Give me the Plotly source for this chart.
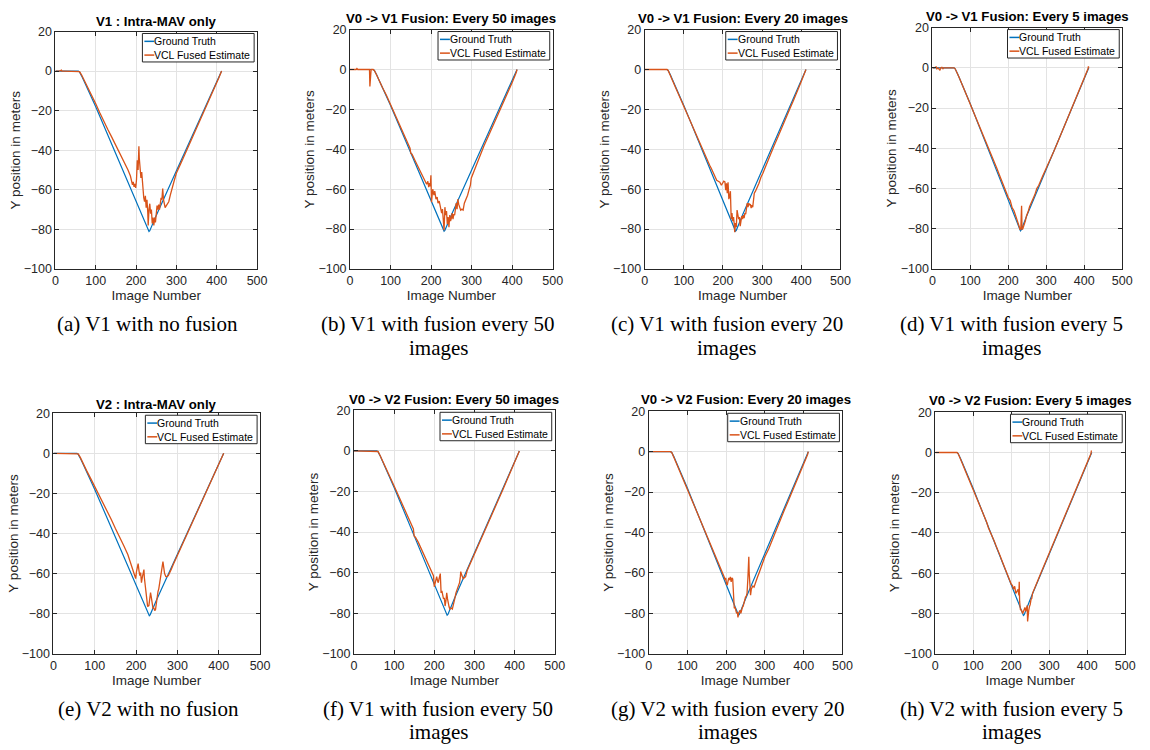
import plotly.graph_objects as go

W, H = 1150, 750

# Ground-truth Y position (same trajectory for V1 and V2)
gt_img = [0, 57, 60, 63, 66, 70, 80, 100, 150, 200, 222, 227, 230, 232, 234, 237, 242, 250, 300, 350, 400, 412]
gt_y = [0, 0, -0.5, -1.5, -2.8, -4.6, -8.8, -18, -41.9, -65.7, -76.2, -78.6, -80.3, -81, -80.6, -79.3, -76.8, -72.9, -50.4, -27.9, -5.4, 0]

# (a) V1, intra-MAV only
img_a = [0, 10, 15, 16, 20, 40, 57, 60, 65, 70, 80, 90, 100, 110, 120, 130, 140, 150, 160, 170, 180, 186,
         189, 191, 193, 195, 197, 199, 201, 203, 205, 207, 208, 210, 212, 214, 216, 218, 219, 221, 223, 225,
         227, 229, 230, 232, 234, 236, 238, 240, 242, 244, 246, 248, 250, 252, 254, 256, 258, 260, 262, 264,
         266, 268, 270, 272, 275, 278, 281, 285, 290, 295, 300, 305, 310, 320, 330, 340, 350, 360, 370, 380,
         390, 400, 405, 410, 412]
y_a = [0, 0, 0.5, 0, 0, 0, 0, -0.3, -2, -4, -8, -12.5, -16.5, -21, -25.5, -29.5, -33.5, -37.5, -41.5, -45.5, -50, -53,
       -56.5, -57.5, -56, -58.5, -57, -59, -55, -45, -50, -38, -44, -52, -54, -51, -57, -60, -64, -66, -63, -69,
       -65, -71.5, -78, -70, -67, -72, -70, -77, -74, -78, -74, -76.5, -72, -68, -70, -67.5, -70, -66, -64, -65,
       -59.3, -65, -67.5, -69, -68, -66.5, -66, -62.5, -58, -55, -51.5, -49.5, -47, -42.5, -38, -33.5, -29, -24.5, -20, -15.5,
       -11, -6, -3.5, -1, 0]

# (b) V0 -> V1 fusion every 50 images
img_b = [0, 15, 17, 19, 30, 48, 49, 50, 51, 52, 57, 60, 65, 70, 80, 90, 100, 110, 120, 130, 140, 148, 150, 153,
         160, 170, 180, 186, 189, 192, 194, 196, 198, 199.5, 201, 204, 207, 209, 212, 215, 217, 220, 223, 226,
         228, 230, 232, 234, 236, 238, 240, 242, 244, 246, 248, 250, 252, 254, 256, 258, 260, 262, 264, 266,
         268, 270, 273, 276, 279, 282, 286, 290, 294, 297, 299, 301, 305, 310, 320, 330, 340, 350, 360, 370,
         380, 390, 400, 410, 412]
y_b = [0, 0, 0.5, 0, 0, 0, -8.5, -3, 0, 0, 0, -0.5, -2.5, -5, -9, -13, -17.5, -22, -26.5, -31, -36, -39.5, -42, -42.5,
       -45.5, -49.5, -53.5, -56, -57.5, -56, -59, -57, -58.5, -53, -66.5, -60, -63, -61, -65, -64, -67, -66, -70, -72,
       -70, -74, -80.5, -69, -73, -71, -77.5, -74, -79, -73, -76, -74.5, -72, -75, -72.5, -73, -69, -67, -70, -65,
       -67.5, -69, -70.5, -70, -70.5, -67, -65, -63, -60, -58, -54.5, -53.5, -51, -48, -43, -38.5, -34, -29.5, -25, -20.5,
       -16, -11.5, -6.5, -1.5, 0]

# (c) V0 -> V1 fusion every 20 images
img_c = [0, 20, 22, 25, 40, 57, 60, 65, 70, 80, 90, 100, 110, 120, 130, 140, 150, 160, 163, 166, 170, 175, 180,
         184, 188, 192, 196, 199, 202, 205, 207, 209, 211, 213, 215, 217, 219, 221, 223, 225, 227, 229, 230, 232,
         234, 236, 238, 240, 242, 244, 246, 248, 250, 252, 254, 256, 258, 260, 262, 264, 266, 268, 270, 272, 274,
         276, 278, 280, 283, 287, 292, 297, 300, 302, 306, 310, 320, 330, 340, 350, 360, 370, 380, 390, 400, 410, 412]
y_c = [0, 0, -0.3, 0, 0, 0, -0.5, -2.5, -5, -9.5, -14, -18.5, -23, -27.5, -32, -37, -41, -45.5, -47.5, -48, -49.5, -52, -54,
       -55.5, -56, -56.5, -58, -57, -56, -56.3, -60.5, -57, -62, -56.5, -65, -63.5, -61, -75, -72, -76, -74, -78, -81.5, -77,
       -79, -70.5, -73, -75, -74, -78.5, -76, -73.5, -75, -73, -74.5, -72, -72.5, -70, -67, -69, -67, -68, -67.5, -69.5, -68,
       -69, -66, -62, -61, -59.5, -57, -54, -53, -52, -50, -48, -43, -38.5, -34, -29, -24.5, -20, -15.5, -11, -6, -1, 0]

# (d) V0 -> V1 fusion every 5 images
img_d = [0, 5, 10, 12, 15, 20, 22, 25, 28, 30, 35, 45, 57, 60, 65, 70, 80, 90, 100, 110, 120, 130, 140, 150, 155,
         160, 165, 170, 175, 180, 185, 190, 195, 200, 205, 210, 215, 220, 224, 228, 231, 233, 234, 235, 236, 237,
         239, 242, 245, 248, 250, 253, 256, 260, 265, 270, 275, 280, 290, 300, 310, 320, 330, 340, 350, 360, 370,
         380, 390, 400, 405, 408, 410, 411, 412]
y_d = [0, 0, 0.5, -0.5, 0, -1.2, 0, 0.3, -0.4, 0, 0, 0, 0, -0.5, -2.3, -4.6, -9, -13.5, -17.8, -22.5, -26.8, -31.5, -36, -40.5, -42.5,
       -45, -47.8, -50, -52.5, -55, -57.5, -59.8, -62, -64.5, -66, -69.5, -71, -73.5, -76, -78.5, -80.5, -80, -74, -68.6, -79, -80.5,
       -79.5, -78, -76, -73.5, -72, -71, -69, -67.5, -65, -63, -60, -58.5, -54, -50, -46, -41.5, -37, -32.5, -28, -23.5, -19,
       -14.5, -10, -5.5, -3, -1.5, -0.5, 0.7, 0]

# (e) V2, intra-MAV only
img_e = [0, 57, 60, 65, 70, 80, 90, 100, 110, 120, 130, 140, 150, 160, 170, 180, 186, 190, 194, 197, 199, 201, 203,
         205, 207, 209, 211, 213, 215, 217, 219, 220, 222, 224, 226, 228, 231, 233, 235, 237, 239, 241, 243, 245,
         247, 249, 251, 253, 255, 257, 259, 261, 263, 265, 267, 269, 272, 275, 278, 281, 285, 290, 300, 310, 320,
         330, 340, 350, 360, 370, 380, 390, 400, 410, 412]
y_e = [0, 0, -0.3, -2, -4.3, -8.5, -12.5, -16.5, -20.5, -24.5, -29, -33, -37.5, -41.5, -46, -50.5, -54, -56.5, -58.5, -61, -62.5, -59, -56.5,
       -55, -58.5, -61, -59.5, -64.5, -62, -60, -58, -62, -66, -70, -74, -76.5, -76, -72, -69.5, -72, -76, -77.5, -77, -78.5,
       -78, -74, -71, -69, -67.5, -65, -62, -60, -58, -54, -57, -60, -61.5, -61.5, -61, -60, -58, -55.5, -51, -46.5, -42,
       -37.5, -33, -28.5, -24, -19.5, -15, -10.5, -6, -1.5, 0]

# (f) V0 -> V2 fusion every 50 images
img_f = [0, 57, 60, 65, 70, 80, 90, 100, 110, 120, 130, 140, 148, 150, 153, 160, 170, 180, 190, 196, 198, 200, 202,
         204, 206, 208, 210, 212, 214, 215, 217, 219, 221, 223, 225, 227, 229, 231, 233, 235, 237, 239, 242, 245,
         248, 251, 254, 257, 259, 261, 263, 265, 266, 268, 270, 272, 275, 278, 282, 290, 300, 310, 320, 330, 340,
         350, 360, 370, 380, 390, 400, 410, 412]
y_f = [0, 0, -0.3, -2.3, -4.6, -9, -13, -17.3, -21.7, -26, -30.5, -35, -38.5, -42, -42.5, -45, -49.5, -54, -58.5, -61, -61.5, -67, -65,
       -63, -62, -64, -65, -63, -61, -60.5, -70, -69, -71, -73, -72.5, -76.5, -74, -70, -73, -76.5, -77, -78, -77.5, -78,
       -76, -73, -70, -68, -67.5, -66, -65, -62, -59.5, -61, -62, -63, -62.5, -62, -59, -55.5, -51, -46.5, -42, -37.5, -33,
       -28.5, -24, -19.5, -15, -10.5, -6, -1.5, 0]

# (g) V0 -> V2 fusion every 20 images
img_g = [0, 57, 60, 65, 70, 80, 90, 100, 110, 120, 130, 140, 150, 160, 163, 166, 170, 180, 190, 195, 197, 199, 201,
         203, 205, 207, 209, 211, 213, 215, 217, 219, 221, 223, 225, 227, 229, 230.5, 232, 234, 236, 238, 240, 242,
         244, 246, 248, 250, 252, 254, 256, 257.5, 258.5, 259.5, 261, 263, 265, 267, 269, 272, 275, 278, 281, 285,
         290, 300, 310, 320, 330, 340, 350, 360, 370, 380, 390, 400, 410, 412]
y_g = [0, 0, -0.5, -2.5, -5, -9.5, -14, -18.5, -23, -27.5, -32, -37, -41.5, -46, -47.5, -48.5, -50, -54.5, -59, -62, -63.5, -62.5, -65.5,
       -66, -64, -62.5, -63.5, -62, -64.5, -62.5, -63, -76, -77.5, -77, -79, -80, -79.5, -82, -80, -79, -78.5, -80, -78, -77,
       -76.5, -74.5, -73, -72, -71.5, -70, -63, -58, -52, -60, -69.5, -71, -68, -67, -66.5, -67, -65, -64, -62, -60,
       -57, -52, -48, -43, -38, -33.5, -29, -24.5, -20, -15, -10.5, -6, -1.5, 0]

# (h) V0 -> V2 fusion every 5 images
img_h = [0, 57, 60, 65, 70, 80, 90, 100, 105, 110, 115, 120, 125, 130, 135, 140, 145, 150, 155, 160, 165, 170, 175,
         180, 185, 190, 195, 200, 203, 206, 209, 212, 215, 218, 220, 221, 222, 224, 227, 230, 233, 236, 238, 240,
         242, 243, 244, 246, 248, 250, 252, 254, 256, 258, 260, 265, 270, 280, 290, 300, 310, 320, 330, 340, 350,
         360, 370, 380, 390, 400, 405, 408, 410, 411]
y_h = [0, 0, -0.5, -2.5, -5, -9.5, -14, -18.5, -20.5, -23.5, -25, -28, -30, -32.5, -34.5, -37.5, -39.5, -42, -44, -46.5, -48.5, -51, -53.5,
       -56, -58, -61, -63, -65.5, -66, -68, -66.5, -70, -69, -68, -71, -64.2, -74, -78, -78.5, -80, -78.5, -77, -79, -77,
       -76, -84, -79, -78.5, -76.5, -75.5, -73, -72.5, -70, -69, -68, -65.5, -63, -59, -54.5, -50, -46, -41.5, -37, -32.5, -28,
       -23.5, -19, -14.5, -10, -5.5, -3, -1.5, -0.5, 1]

x_ticks = [0, 100, 200, 300, 400, 500]
y_ticks = [-100, -80, -60, -40, -20, 0, 20]

BLUE = "#0072BD"
ORANGE = "#D95319"
INK = "#262626"
GRID = "#E3E3E3"
SANS = "Liberation Sans, Arial, sans-serif"
SERIF = "Liberation Serif, Times New Roman, serif"

# panel layout in pixels: axes box (left, top, right, bottom), title centre height, caption
panels = [
    dict(title="V1 : Intra-MAV only", img=img_a, y=y_a, box=(53, 25, 257, 267), ty=15,
         cap=["(a) V1 with no fusion"], cx=146, cy=323),
    dict(title="V0 -> V1 Fusion: Every 50 images", img=img_b, y=y_b, box=(351, 23, 556, 267), ty=12,
         cap=["(b) V1 with fusion every 50", "images"], cx=440, cy=323),
    dict(title="V0 -> V1 Fusion: Every 20 images", img=img_c, y=y_c, box=(649, 23, 847, 267), ty=12,
         cap=["(c) V1 with fusion every 20", "images"], cx=732, cy=323),
    dict(title="V0 -> V1 Fusion: Every 5 images", img=img_d, y=y_d, box=(940, 21, 1132, 267), ty=10,
         cap=["(d) V1 with fusion every 5", "images"], cx=1020, cy=323),
    dict(title="V2 : Intra-MAV only", img=img_e, y=y_e, box=(51, 414, 260, 659), ty=405,
         cap=["(e) V2 with no fusion"], cx=147, cy=715),
    dict(title="V0 -> V2 Fusion: Every 50 images", img=img_f, y=y_f, box=(355, 411, 558, 659), ty=400,
         cap=["(f) V1 with fusion every 50", "images"], cx=440, cy=715),
    dict(title="V0 -> V2 Fusion: Every 20 images", img=img_g, y=y_g, box=(653, 412, 849, 659), ty=400,
         cap=["(g) V2 with fusion every 20", "images"], cx=733, cy=715),
    dict(title="V0 -> V2 Fusion: Every 5 images", img=img_h, y=y_h, box=(943, 413, 1135, 659), ty=401,
         cap=["(h) V2 with fusion every 5", "images"], cx=1020, cy=715),
]


def px(x):
    return x / W


def py(y):
    return 1 - y / H


fig = go.Figure()
layout = {}
annotations = []
shapes = []

for i, p in enumerate(panels, start=1):
    sfx = "" if i == 1 else str(i)
    xa, ya = "x" + sfx, "y" + sfx
    left, top, right, bottom = p["box"]

    fig.add_trace(go.Scatter(x=gt_img, y=gt_y, mode="lines", name="Ground Truth",
                             line=dict(color=BLUE, width=1.2), xaxis=xa, yaxis=ya, showlegend=False))
    fig.add_trace(go.Scatter(x=p["img"], y=p["y"], mode="lines", name="VCL Fused Estimate",
                             line=dict(color=ORANGE, width=1.3), xaxis=xa, yaxis=ya, showlegend=False))

    common = dict(showline=True, linecolor=INK, linewidth=1, mirror="ticks", ticks="inside",
                  ticklen=4, tickcolor=INK, showgrid=True, gridcolor=GRID, gridwidth=1,
                  zeroline=False, tickfont=dict(family=SANS, size=12.5, color=INK),
                  fixedrange=True)
    layout["xaxis" + sfx] = dict(common, domain=[px(left), px(right)], anchor=ya, range=[0, 500],
                                 tickvals=x_ticks,
                                 title=dict(text="Image Number", font=dict(family=SANS, size=13.5, color=INK),
                                            standoff=1))
    layout["yaxis" + sfx] = dict(common, domain=[py(bottom), py(top)], anchor=xa, range=[-100, 20],
                                 tickvals=y_ticks,
                                 title=dict(text="Y position in meters", font=dict(family=SANS, size=13.5, color=INK),
                                            standoff=0))

    # axes title
    annotations.append(dict(text="<b>" + p["title"] + "</b>", x=px((left + right) / 2), y=py(p["ty"]),
                            xref="paper", yref="paper", showarrow=False, xanchor="center", yanchor="middle",
                            font=dict(family=SANS, size=13.2, color="black")))

    # legend box in the upper-right corner of the axes
    lx1, ly0 = right - 3, top + 2
    lx0, ly1 = lx1 - 113, ly0 + 29
    shapes.append(dict(type="rect", xref="paper", yref="paper", x0=px(lx0), x1=px(lx1), y0=py(ly1), y1=py(ly0),
                       line=dict(color=INK, width=1), fillcolor="white", layer="above"))
    for k, (label, colr) in enumerate([("Ground Truth", BLUE), ("VCL Fused Estimate", ORANGE)]):
        yy = ly0 + 8 + 14 * k
        shapes.append(dict(type="line", xref="paper", yref="paper", x0=px(lx0 + 2), x1=px(lx0 + 12),
                           y0=py(yy), y1=py(yy), line=dict(color=colr, width=1.5), layer="above"))
        annotations.append(dict(text=label, x=px(lx0 + 10), y=py(yy), xref="paper", yref="paper",
                                showarrow=False, xanchor="left", yanchor="middle",
                                font=dict(family=SANS, size=10.5, color="black")))

    # sub-figure caption
    for k, line in enumerate(p["cap"]):
        annotations.append(dict(text=line, x=px(p["cx"]), y=py(p["cy"] + 24 * k), xref="paper", yref="paper",
                                showarrow=False, xanchor="center", yanchor="middle",
                                font=dict(family=SERIF, size=21, color="black")))

fig.update_layout(**layout)
fig.update_layout(width=W, height=H, margin=dict(l=0, r=0, t=0, b=0), paper_bgcolor="white",
                  plot_bgcolor="white", annotations=annotations, shapes=shapes, showlegend=False)

fig.write_html("out.html", config={"displayModeBar": False})
